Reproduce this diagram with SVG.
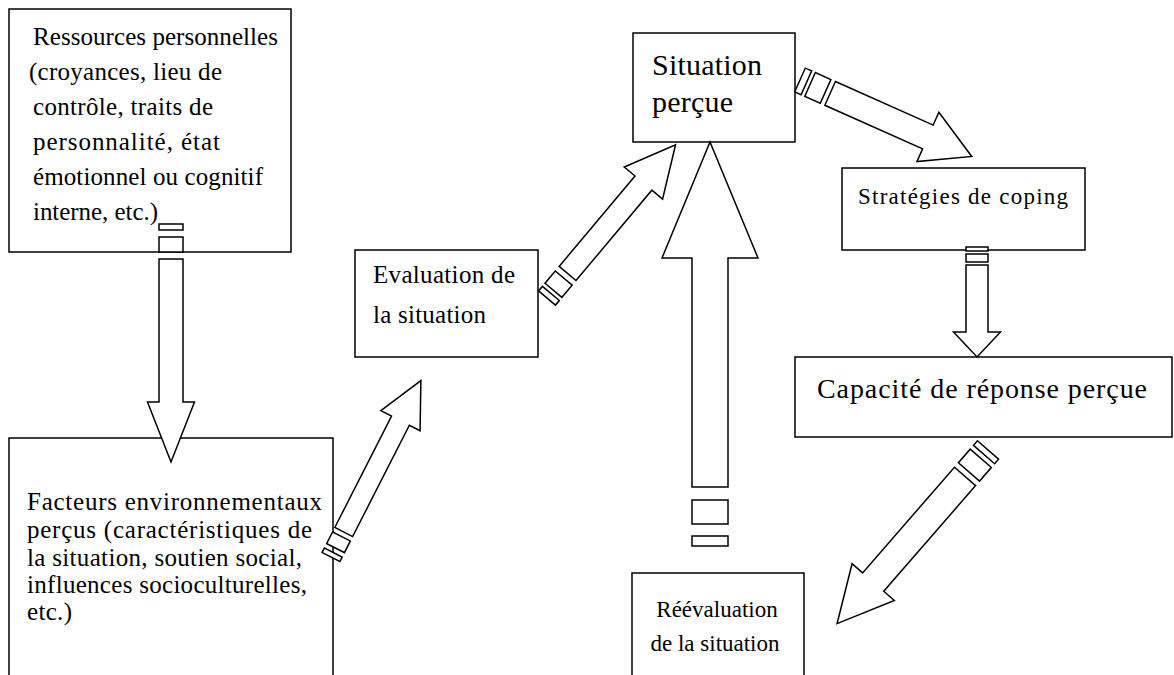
<svg xmlns="http://www.w3.org/2000/svg" width="1174" height="675" viewBox="0 0 1174 675">
<style>
.box{fill:#fff;stroke:#000;stroke-width:1.5}
.arr{fill:#fff;stroke:#000;stroke-width:1.5;stroke-linejoin:miter}
text{font-family:"Liberation Serif","Times New Roman",serif;fill:#000}
.t25{font-size:25px}
.t23{font-size:23px}
</style>
<rect width="1174" height="675" fill="#fff"/>
<g id="node-ressources">
<rect class="box" x="9" y="9" width="282" height="243"/>
<text class="t25" x="33" y="45" textLength="245" lengthAdjust="spacing">Ressources personnelles</text>
<text class="t25" x="29" y="80" textLength="193" lengthAdjust="spacing">(croyances, lieu de</text>
<text class="t25" x="33" y="115" textLength="180" lengthAdjust="spacing">contrôle, traits de</text>
<text class="t25" x="33" y="150" textLength="187" lengthAdjust="spacing">personnalité, état</text>
<text class="t25" x="33" y="185" textLength="230" lengthAdjust="spacing">émotionnel ou cognitif</text>
<text class="t25" x="33" y="220" textLength="125" lengthAdjust="spacing">interne, etc.)</text>
</g>
<g id="node-facteurs">
<rect class="box" x="9" y="438" width="324" height="260"/>
<text class="t25" x="27" y="510" textLength="295" lengthAdjust="spacing">Facteurs environnementaux</text>
<text class="t25" x="27" y="538" textLength="285" lengthAdjust="spacing">perçus (caractéristiques de</text>
<text class="t25" x="27" y="566" textLength="275" lengthAdjust="spacing">la situation, soutien social,</text>
<text class="t25" x="27" y="593" textLength="280" lengthAdjust="spacing">influences socioculturelles,</text>
<text class="t25" x="27" y="620" textLength="45" lengthAdjust="spacing">etc.)</text>
</g>
<g id="node-evaluation">
<rect class="box" x="355" y="250" width="183" height="107"/>
<text class="t25" x="373" y="283" textLength="142" lengthAdjust="spacing">Evaluation de</text>
<text class="t25" x="373" y="323" textLength="113" lengthAdjust="spacing">la situation</text>
</g>
<g id="node-situation">
<rect class="box" x="633" y="33" width="162" height="109"/>
<text x="652" y="75" font-size="30" textLength="110" lengthAdjust="spacing">Situation</text>
<text x="652" y="112" font-size="30" textLength="81" lengthAdjust="spacing">perçue</text>
</g>
<g id="node-strategies">
<rect class="box" x="842" y="168" width="243" height="82"/>
<text class="t23" x="858" y="204" textLength="210" lengthAdjust="spacing">Stratégies de coping</text>
</g>
<g id="node-capacite">
<rect class="box" x="795" y="357" width="377" height="80"/>
<text x="817" y="398" font-size="28" textLength="330" lengthAdjust="spacing">Capacité de réponse perçue</text>
</g>
<g id="node-reevaluation">
<rect class="box" x="632" y="573" width="172" height="125"/>
<text class="t23" x="717" y="617" text-anchor="middle">Réévaluation</text>
<text class="t23" x="715" y="651" text-anchor="middle">de la situation</text>
</g>
<g id="connectors">
<g transform="translate(171,224) rotate(90)">
<rect class="arr" x="0" y="-12" width="6" height="24"/>
<rect class="arr" x="13" y="-12" width="15" height="24"/>
<path class="arr" d="M35,-12 L178,-12 L178,-23.5 L238,0 L178,23.5 L178,12 L35,12 Z"/>
</g>
<g transform="translate(331,557) rotate(-63)">
<rect class="arr" x="0" y="-10" width="5" height="20"/>
<rect class="arr" x="10" y="-10" width="13" height="20"/>
<path class="arr" d="M28,-10 L153,-10 L153,-22 L198,0 L153,22 L153,10 L28,10 Z"/>
</g>
<g transform="translate(547,298) rotate(-50)">
<rect class="arr" x="0" y="-11" width="6" height="22"/>
<rect class="arr" x="10" y="-11" width="16" height="22"/>
<path class="arr" d="M32,-11 L150,-11 L150,-25 L200,0 L150,25 L150,11 L32,11 Z"/>
</g>
<g transform="translate(800,80) rotate(24)">
<rect class="arr" x="0" y="-13" width="7" height="26"/>
<rect class="arr" x="11" y="-13" width="17" height="26"/>
<path class="arr" d="M33,-13 L140,-13 L140,-27 L188,0 L140,27 L140,13 L33,13 Z"/>
</g>
<g transform="translate(977,247) rotate(90)">
<rect class="arr" x="0" y="-11" width="4" height="22"/>
<rect class="arr" x="7" y="-11" width="8" height="22"/>
<path class="arr" d="M18,-11 L85,-11 L85,-23.5 L110,0 L85,23.5 L85,11 L18,11 Z"/>
</g>
<g transform="translate(988,450) rotate(131)">
<rect class="arr" x="0" y="-14" width="6" height="28"/>
<rect class="arr" x="11" y="-14" width="18" height="28"/>
<path class="arr" d="M35,-14 L175,-14 L175,-28 L230,0 L175,28 L175,14 L35,14 Z"/>
</g>
<g transform="translate(710,546) rotate(-90)">
<rect class="arr" x="0" y="-18" width="10" height="36"/>
<rect class="arr" x="22" y="-18" width="24" height="36"/>
<path class="arr" d="M59,-18 L288,-18 L288,-48 L404,0 L288,48 L288,18 L59,18 Z"/>
</g>
</g>
</svg>
